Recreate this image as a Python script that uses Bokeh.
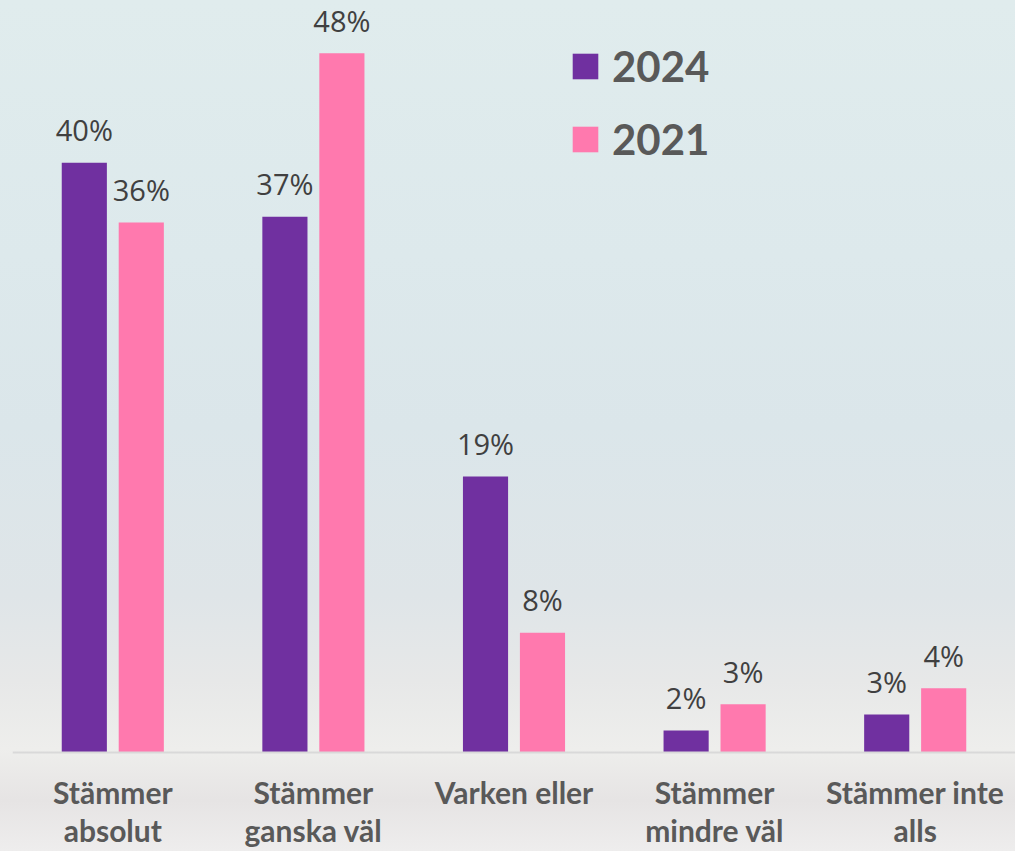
from bokeh.plotting import figure
from bokeh.models import Range1d, Legend, LegendItem, ColumnDataSource, Span
from bokeh.core.properties import value
from bokeh.embed import file_html
from bokeh.resources import INLINE

categories = ["Stämmer\nabsolut", "Stämmer\nganska väl", "Varken eller", "Stämmer\nmindre väl", "Stämmer inte\nalls"]
values_2024 = [40.4, 36.7, 18.9, 1.5, 2.6]
values_2021 = [36.3, 47.9, 8.2, 3.3, 4.4]
labels_2024 = ["40%", "37%", "19%", "2%", "3%"]
labels_2021 = ["36%", "48%", "8%", "3%", "4%"]

PURPLE = "#7030a0"
PINK = "#ff79ae"

centers = [i + 0.5 for i in range(len(categories))]
off = 0.142
bw = 0.225

src24 = ColumnDataSource(dict(x=[c - off for c in centers], top=values_2024, lab=labels_2024))
src21 = ColumnDataSource(dict(x=[c + off for c in centers], top=values_2021, lab=labels_2021))

line1 = [c.split("\n")[0] for c in categories]
line2 = [c.split("\n")[1] if "\n" in c else "" for c in categories]
cat_src = ColumnDataSource(dict(x=centers, y=[0] * len(centers), l1=line1, l2=line2))

PX_PER_UNIT = 14.6
p = figure(width=1015, height=851,
           x_range=Range1d(0, 1003 / 200.6),
           y_range=Range1d(-99 / PX_PER_UNIT, 752 / PX_PER_UNIT),
           output_backend="svg", toolbar_location=None,
           x_axis_location=None, y_axis_location=None,
           min_border_left=12, min_border_right=0, min_border_top=0, min_border_bottom=0)

p.background_fill_alpha = 0
p.border_fill_alpha = 0
p.outline_line_color = None
p.styles = {"background": "linear-gradient(to bottom, #e0eced 0%, #dde9ec 30%, #dbe6ea 50%, #dfe5e8 70%, #e7e8e8 80%, #eeeeec 88%, #e6e4e4 94%, #eeeded 100%)"}
p.xgrid.visible = False
p.ygrid.visible = False

r24 = p.vbar(x="x", top="top", width=bw, source=src24, fill_color=PURPLE, line_color=None)
r21 = p.vbar(x="x", top="top", width=bw, source=src21, fill_color=PINK, line_color=None)

# category axis baseline
p.add_layout(Span(location=0, dimension="width", line_color="#d9d9d9", line_width=2))

for s in (src24, src21):
    p.text(x="x", y="top", text="lab", source=s, y_offset=-33,
           text_align="center", text_baseline="alphabetic",
           text_font=value("Open Sans"), text_font_size="29px", text_color="#404040")

for col, yoff in (("l1", 39), ("l2", 77)):
    p.text(x="x", y="y", text=col, source=cat_src, y_offset=yoff,
           text_align="center", text_baseline="alphabetic",
           text_font=value("Lato"), text_font_style="bold",
           text_font_size="30px", text_color="#595959")

legend = Legend(items=[LegendItem(label="2024", renderers=[r24]),
                       LegendItem(label="2021", renderers=[r21])],
                location=(557, 687), orientation="vertical",
                glyph_width=32, glyph_height=32, label_standoff=11, spacing=23,
                padding=0, margin=0, border_line_alpha=0, background_fill_alpha=0,
                label_text_font="Lato", label_text_font_style="bold",
                label_text_font_size="42px", label_text_color="#595959")
p.add_layout(legend)

open("out.html", "w").write(file_html(p, INLINE))
